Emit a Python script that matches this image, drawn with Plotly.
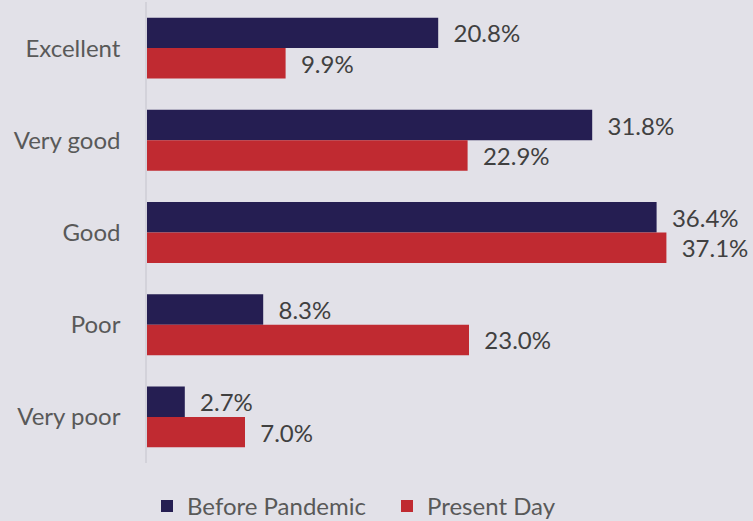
import plotly.graph_objects as go

categories = ["Excellent", "Very good", "Good", "Poor", "Very poor"]
before_pandemic = [20.8, 31.8, 36.4, 8.3, 2.7]
present_day = [9.9, 22.9, 37.1, 23.0, 7.0]

NAVY = "#251E52"
RED = "#C02A31"
BG = "#E2E1E8"
FONT = "Lato, Open Sans, sans-serif"

fig = go.Figure()
fig.add_trace(go.Bar(
    name="Before Pandemic", y=categories, x=before_pandemic, orientation="h",
    marker=dict(color=NAVY, line=dict(width=0)),
    text=[f"{v:.1f}%" for v in before_pandemic],
    texttemplate="  %{text}", textposition="outside", cliponaxis=False,
    textfont=dict(size=24, color="#404040", family=FONT),
))
fig.add_trace(go.Bar(
    name="Present Day", y=categories, x=present_day, orientation="h",
    marker=dict(color=RED, line=dict(width=0)),
    text=[f"{v:.1f}%" for v in present_day],
    texttemplate="  %{text}", textposition="outside", cliponaxis=False,
    textfont=dict(size=24, color="#404040", family=FONT),
))

fig.update_layout(
    width=753, height=521,
    paper_bgcolor=BG, plot_bgcolor=BG,
    barmode="group", bargap=0.34, bargroupgap=0,
    margin=dict(l=147, r=4, t=2, b=58, autoexpand=False),
    font=dict(family=FONT, size=24, color="#595959"),
    showlegend=True,
    legend=dict(orientation="h", x=0.0, xanchor="left", y=-0.143, yanchor="bottom",
                font=dict(size=24, color="#595959", family=FONT),
                itemwidth=30, entrywidth=195, bgcolor="rgba(0,0,0,0)"),
    uniformtext=dict(mode=False),
)
fig.update_xaxes(range=[0, 43], visible=False, showgrid=False, zeroline=False,
                 automargin=False)
fig.update_yaxes(autorange="reversed", showgrid=False, zeroline=False,
                 showline=True, linecolor="#D3D2DA", linewidth=1.5,
                 ticks="", ticklabelstandoff=20, automargin=False,
                 tickfont=dict(size=24, color="#595959", family=FONT))

fig.write_html("out.html", config={"displayModeBar": False},
               post_script="document.body.style.margin='0px';")
